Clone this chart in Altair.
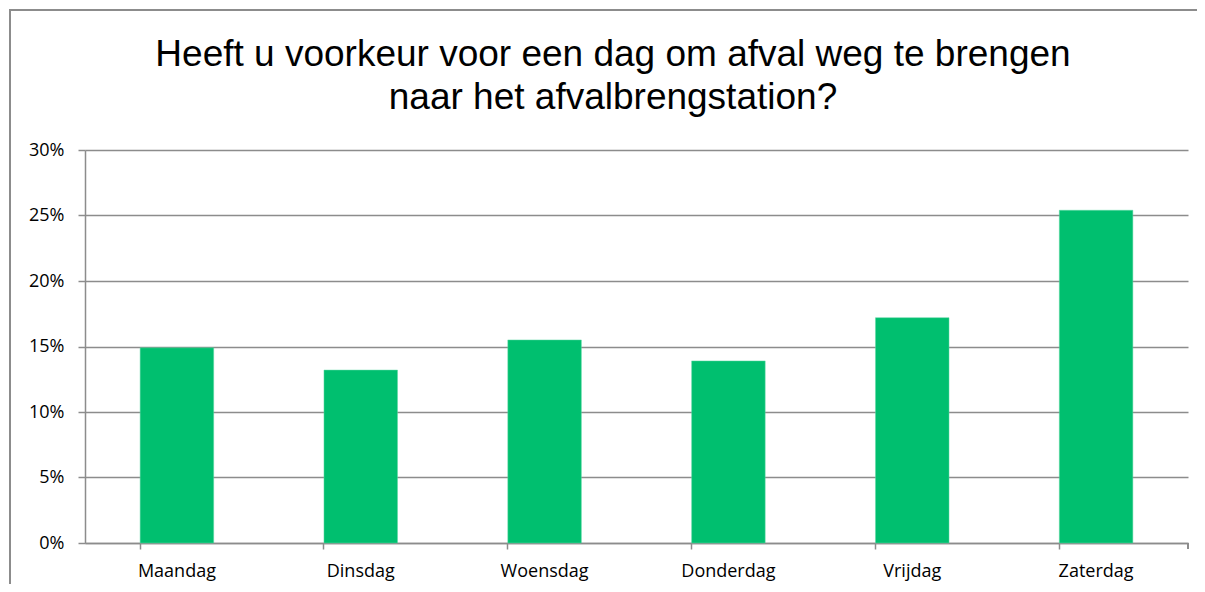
import altair as alt
import pandas as pd

days = ["Maandag", "Dinsdag", "Woensdag", "Donderdag", "Vrijdag", "Zaterdag"]
shares = [0.149, 0.132, 0.155, 0.139, 0.172, 0.254]
title_lines = ["Heeft u voorkeur voor een dag om afval weg te brengen",
               "naar het afvalbrengstation?"]

df = pd.DataFrame({"dag": days, "aandeel": shares})
tdf = pd.DataFrame({"t": [title_lines]})

W, H = 1103, 393
GRID = "#8c8c8c"

x_enc = alt.X("dag:N", sort=days, title=None,
              scale=alt.Scale(paddingInner=0.6, paddingOuter=0.3),
              axis=alt.Axis(labelAngle=0, bandPosition=0, labelFont="Open Sans",
                            labelFontSize=18, labelColor="#000000", labelPadding=13,
                            tickSize=6, tickColor=GRID, domainColor=GRID,
                            domainWidth=1.5, tickWidth=1.5, grid=False))
y_enc = alt.Y("aandeel:Q", title=None,
              scale=alt.Scale(domain=[0, 0.30], nice=False),
              axis=alt.Axis(format=".0%", values=[0, 0.05, 0.10, 0.15, 0.20, 0.25, 0.30],
                            labelFont="Open Sans", labelFontSize=18, labelColor="#000000",
                            labelPadding=14, tickSize=7, tickColor=GRID, tickWidth=1.5,
                            domainColor=GRID, domainWidth=1.5,
                            grid=True, gridColor=GRID, gridWidth=1.5))

bars = alt.Chart(df).mark_bar(color="#00BF6F", stroke="#5fd9a4", strokeWidth=0.5).encode(
    x=x_enc, y=y_enc)

end_tick = alt.Chart(df).mark_rule(color=GRID, strokeWidth=1.5).encode(
    x=alt.value(W), y=alt.value(H), y2=alt.value(H + 6))

frame = alt.Chart(df).mark_rect(fill=None, stroke="#8c8c8c", strokeWidth=2).encode(
    x=alt.value(-75), x2=alt.value(W + 40), y=alt.value(-140), y2=alt.value(H + 80))

title = alt.Chart(tdf).mark_text(font="Liberation Sans", fontSize=37, color="#000000",
                                 align="center", baseline="alphabetic",
                                 lineHeight=43).encode(
    text="t", x=alt.value(528), y=alt.value(-84))

chart = alt.layer(frame, bars, end_tick, title).properties(
    width=W, height=H,
    autosize=alt.AutoSizeParams(type="none"),
    padding={"left": 77, "top": 142, "right": 9, "bottom": 41},
).configure_view(stroke=None)

chart.save("out.html", embed_options={"renderer": "svg", "actions": False})
